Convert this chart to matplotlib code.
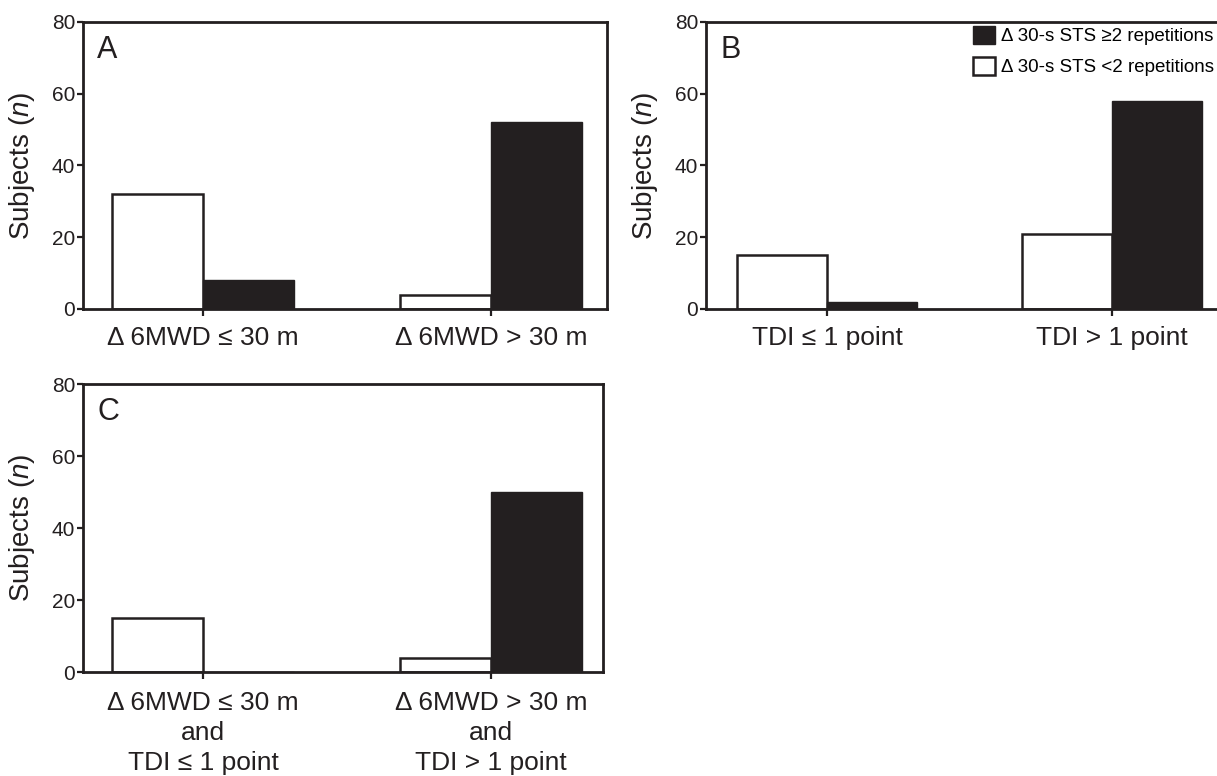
import matplotlib
matplotlib.use('Agg')
import matplotlib.pyplot as plt
import numpy as np

#fonts: Arial-like, with fallback for the odd sign
plt.rcParams['font.family'] = ['Liberation Sans', 'DejaVu Sans']
plt.rcParams['mathtext.fontset'] = 'custom'
plt.rcParams['mathtext.rm'] = 'Liberation Sans'
plt.rcParams['mathtext.it'] = 'Liberation Sans:italic'

#data
cats_a = ['Δ 6MWD ≤ 30 m', 'Δ 6MWD > 30 m']
cats_b = ['TDI ≤ 1 point', 'TDI > 1 point']
cats_c = ['Δ 6MWD ≤ 30 m\nand\nTDI ≤ 1 point', 'Δ 6MWD > 30 m\nand\nTDI > 1 point']
white_a = [32, 4]   #Δ 30-s STS <2 repetitions
black_a = [8, 52]   #Δ 30-s STS ≥2 repetitions
white_b = [15, 21]
black_b = [2, 58]
white_c = [15, 4]
black_c = [0, 50]
yticks = [0, 20, 40, 60, 80]
letters = ['A', 'B', 'C']
leg_labels = ['Δ 30-s STS ≥2 repetitions', 'Δ 30-s STS <2 repetitions']

ink = '#231f20'
W, H = 1217, 776
fig = plt.figure(figsize=(W/100, H/100), dpi=100)

#axes boxes in pixels: left, top, right, bottom
boxes = [(83, 22, 607, 309), (706, 22, 1226, 309), (83, 384, 603, 672)]
xlims = [(-0.417, 1.403), (-0.425, 1.40), (-0.417, 1.389)]
panels = [(cats_a, white_a, black_a), (cats_b, white_b, black_b), (cats_c, white_c, black_c)]
w = 0.316

for i in range(3):
    l, t, r, b = boxes[i]
    ax = fig.add_axes([l/W, 1-b/H, (r-l)/W, (b-t)/H])
    cats, wv, bv = panels[i]
    x = np.arange(len(cats))
    hw = ax.bar(x - w/2, wv, w, facecolor='white', edgecolor=ink, linewidth=1.8, zorder=2)
    hb = ax.bar(x + w/2, bv, w, facecolor=ink, edgecolor=ink, linewidth=1.0, zorder=2)
    ax.set_xlim(*xlims[i])
    ax.set_ylim(0, 80)
    ax.set_yticks(yticks)
    ax.set_xticks(x)
    pad = 9 if i == 2 else 7
    ax.set_xticklabels(cats, fontsize=19, color=ink, linespacing=1.3)
    ax.tick_params(axis='x', length=5, width=1.6, color=ink, pad=pad)
    ax.tick_params(axis='y', length=4, width=1.6, color=ink, labelsize=15, labelcolor=ink, pad=1.5)
    for s in ax.spines.values():
        s.set_linewidth(2.0)
        s.set_color(ink)
    ax.set_ylabel('Subjects ($\\mathit{n}$)', fontsize=20, color=ink)
    ax.yaxis.set_label_coords(-0.088, 0.5)
    ax.text(0.027, 0.955, letters[i], transform=ax.transAxes, fontsize=22,
            color=ink, ha='left', va='top')
    if i == 1:
        ax.legend([hb, hw], leg_labels, loc='upper right', frameon=False,
                  bbox_to_anchor=(1214/W, 1-26/H), bbox_transform=fig.transFigure,
                  fontsize=13.5, handlelength=1.2, handleheight=1.1,
                  handletextpad=0.3, labelspacing=0.6, borderpad=0, borderaxespad=0)

plt.savefig('out.png', dpi=100)
